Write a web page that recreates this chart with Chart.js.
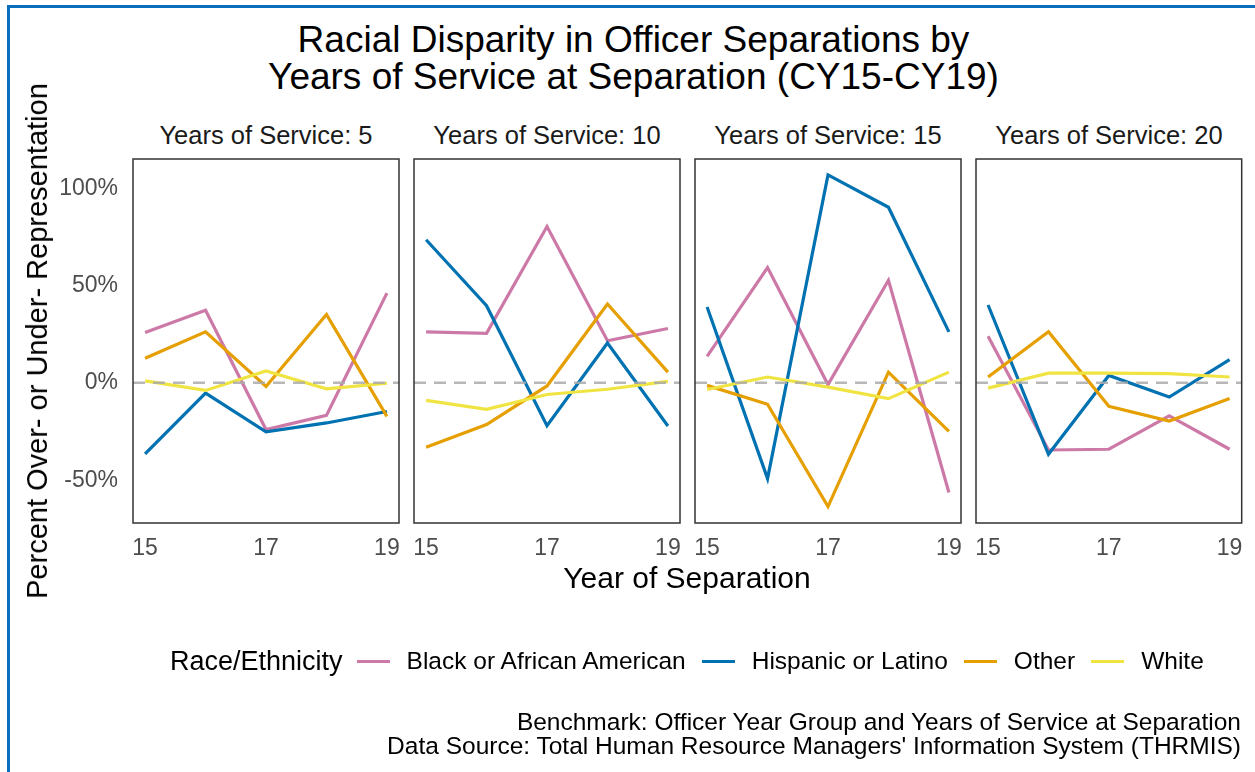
<!DOCTYPE html>
<html>
<head>
<meta charset="utf-8">
<script src="https://cdn.jsdelivr.net/npm/chart.js@4/dist/chart.umd.min.js"></script>
<style>
  body { margin: 0; width: 1255px; height: 772px; background: #fff; overflow: hidden;
         font-family: "Liberation Sans", Arial, sans-serif; position: relative; }
  .frame { position: absolute; left: 7px; top: 5px; right: 0; bottom: 0;
           border-left: 3px solid #0A6EBD; border-top: 3px solid #0A6EBD; }
  canvas.panel { position: absolute; left: 0; top: 0; }
  .txt { position: absolute; white-space: nowrap; color: #000; }
  .title { left: 0; width: 1267px; top: 21px; text-align: center; font-size: 37px; line-height: 37px; }
  .strip { top: 121px; width: 266px; text-align: center; font-size: 25.5px; line-height: 28px; color: #1a1a1a; }
  .xtitle { left: 413px; width: 548px; top: 561px; text-align: center; font-size: 30px; line-height: 34px; }
  .ytitle { left: 37px; top: 341px; font-size: 29px; line-height: 34px;
            transform: translate(-50%, -50%) rotate(-90deg); }
  .legend { position: absolute; left: 170px; top: 645px; height: 32px; display: flex; align-items: center; }
  .legend .head { font-size: 27px; margin-right: 14px; }
  .legend .key { width: 33px; height: 3px; margin-right: 17px; }
  .legend .lab { font-size: 24.5px; margin-right: 16px; }
  .caption { right: 14px; top: 710px; text-align: right; font-size: 24.5px; line-height: 24px; }
</style>
</head>
<body>
<div class="frame"></div>
<div class="txt title">Racial Disparity in Officer Separations by<br>Years of Service at Separation (CY15-CY19)</div>
<div id="strips"></div>
<canvas class="panel" id="p0" width="1255" height="772"></canvas>
<canvas class="panel" id="p1" width="1255" height="772"></canvas>
<canvas class="panel" id="p2" width="1255" height="772"></canvas>
<canvas class="panel" id="p3" width="1255" height="772"></canvas>
<div class="txt xtitle">Year of Separation</div>
<div class="txt ytitle">Percent Over- or Under- Representation</div>
<div class="legend" id="legend"></div>
<div class="txt caption">Benchmark: Officer Year Group and Years of Service at Separation<br>Data Source: Total Human Resource Managers' Information System (THRMIS)</div>

<script>
// --- data ---
const yearsOfService = [5, 10, 15, 20];
const years = [15, 16, 17, 18, 19];
const xTickLabels = [15, 17, 19];
const yTickLabels = [-50, 0, 50, 100];

const raceNames = ['Black or African American', 'Hispanic or Latino', 'Other', 'White'];
const raceColors = ['#CC79A7', '#0072B2', '#E69F00', '#F0E442'];

// one row per panel (5, 10, 15, 20 years of service), values in percent
const black = [
    [25.9, 37.3, -24.0, -16.7, 46.1],
    [26.2, 25.4, 80.3, 21.6, 27.9],
    [13.6, 59.2, -0.9, 52.7, -56.3],
    [23.9, -34.5, -34.1, -16.9, -34.1]
];
const hispanic = [
    [-36.5, -5.3, -25.2, -20.6, -14.7],
    [73.5, 39.6, -22.0, 20.5, -22.2],
    [39.0, -49.2, 106.8, 90.2, 26.2],
    [40.0, -36.7, 3.8, -7.3, 11.9]
];
const other = [
    [12.6, 26.2, -1.9, 35.1, -17.2],
    [-33.1, -21.4, -1.6, 40.5, 5.5],
    [-1.3, -11.0, -63.6, 5.5, -24.9],
    [3.0, 26.3, -12.0, -19.6, -8.0]
];
const white = [
    [1.0, -3.9, 6.1, -3.1, -0.2],
    [-9.0, -13.6, -6.0, -3.3, 0.8],
    [-3.4, 3.0, -2.2, -8.1, 5.5],
    [-2.7, 5.0, 5.0, 4.7, 3.0]
];
const seriesByRace = [black, hispanic, other, white];

// --- layout ---
const panelLeft = [133, 414, 695, 976];
const panelRight = [399, 680, 961, 1242];
const panelTop = 159;
const panelBottom = 523;
const xAxisHeight = 40;
const yAxisWidth = 93;

const boxPlugin = {
    id: 'panelBox',
    afterDraw(chart) {
        const a = chart.chartArea;
        const ctx = chart.ctx;
        ctx.save();
        ctx.strokeStyle = '#333333';
        ctx.lineWidth = 1.5;
        ctx.strokeRect(a.left, a.top, a.right - a.left, a.bottom - a.top);
        ctx.restore();
    }
};

function buildStrips() {
    const holder = document.getElementById('strips');
    yearsOfService.forEach((yos, i) => {
        const d = document.createElement('div');
        d.className = 'txt strip';
        d.style.left = panelLeft[i] + 'px';
        d.style.width = (panelRight[i] - panelLeft[i]) + 'px';
        d.textContent = 'Years of Service: ' + yos;
        holder.appendChild(d);
    });
}

function buildLegend() {
    const legend = document.getElementById('legend');
    const head = document.createElement('span');
    head.className = 'head';
    head.textContent = 'Race/Ethnicity';
    legend.appendChild(head);
    raceNames.forEach((name, i) => {
        const key = document.createElement('span');
        key.className = 'key';
        key.style.background = raceColors[i];
        const lab = document.createElement('span');
        lab.className = 'lab';
        lab.textContent = name;
        legend.appendChild(key);
        legend.appendChild(lab);
    });
}

function makePanel(i) {
    const datasets = seriesByRace.map((rows, r) => ({
        label: raceNames[r],
        data: years.map((yr, k) => ({ x: yr, y: rows[i][k] })),
        borderColor: raceColors[r],
        borderWidth: 3.2,
        pointRadius: 0,
        tension: 0,
        order: 4 - r
    }));
    // dashed reference line at zero
    datasets.push({
        label: 'zero',
        data: [{ x: 14.8, y: 0 }, { x: 19.2, y: 0 }],
        borderColor: 'rgba(170,170,170,0.85)',
        borderWidth: 2.5,
        borderDash: [12, 8],
        pointRadius: 0,
        order: 0
    });

    const tickFont = { family: '"Liberation Sans", Arial, sans-serif', size: 23 };
    const showY = i === 0;

    new Chart(document.getElementById('p' + i), {
        type: 'line',
        data: { datasets },
        options: {
            responsive: false,
            animation: false,
            layout: {
                padding: {
                    left: showY ? panelLeft[i] - yAxisWidth : panelLeft[i],
                    right: 1255 - panelRight[i],
                    top: panelTop,
                    bottom: 772 - panelBottom - xAxisHeight
                }
            },
            plugins: { legend: { display: false }, tooltip: { enabled: false } },
            scales: {
                x: {
                    type: 'linear',
                    min: 14.8,
                    max: 19.2,
                    grid: { display: false, tickLength: 0 },
                    border: { display: false },
                    afterBuildTicks: s => { s.ticks = xTickLabels.map(v => ({ value: v })); },
                    afterFit: s => { s.height = xAxisHeight; },
                    ticks: { font: tickFont, color: '#4D4D4D', padding: 12, maxRotation: 0 }
                },
                y: {
                    display: showY,
                    min: -72,
                    max: 115,
                    grid: { display: false, tickLength: 0 },
                    border: { display: false },
                    afterBuildTicks: s => { s.ticks = yTickLabels.map(v => ({ value: v })); },
                    afterFit: s => { s.width = showY ? yAxisWidth : 0; },
                    ticks: { font: tickFont, color: '#4D4D4D', padding: 15, callback: v => v + '%' }
                }
            }
        },
        plugins: [boxPlugin]
    });
}

buildStrips();
buildLegend();
yearsOfService.forEach((_, i) => makePanel(i));
</script>
</body>
</html>
